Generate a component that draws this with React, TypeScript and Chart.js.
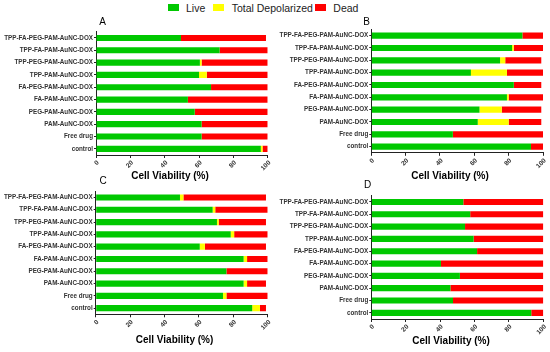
import React, { useEffect, useRef } from 'react';
import { Chart, registerables } from 'chart.js';

Chart.register(...registerables);

// ---------- data ----------
const categories = [
  'TPP-FA-PEG-PAM-AuNC-DOX',
  'TPP-FA-PAM-AuNC-DOX',
  'TPP-PEG-PAM-AuNC-DOX',
  'TPP-PAM-AuNC-DOX',
  'FA-PEG-PAM-AuNC-DOX',
  'FA-PAM-AuNC-DOX',
  'PEG-PAM-AuNC-DOX',
  'PAM-AuNC-DOX',
  'Free drug',
  'control',
];
const seriesNames = ['Live', 'Total Depolarized', 'Dead'];
const seriesColors = ['#00c800', '#ffff00', '#ff0000'];
const xTickValues = [0, 20, 40, 60, 80, 100];
const axisTitle = 'Cell Viability (%)';

const liveA = [49.5, 72, 60.5, 60, 67, 53.5, 57.5, 61.5, 61.5, 96];
const depolA = [0, 0, 1, 4.5, 0, 0, 0, 0, 0, 1];
const deadA = [49.5, 28, 38.5, 35.5, 33, 46.5, 42.5, 38.5, 38.5, 3];

const liveB = [88, 82, 75, 58, 83, 79, 63, 62, 47.5, 93];
const depolB = [0, 1, 3, 21, 0, 1, 13, 18, 0, 0];
const deadB = [12, 17, 21, 21, 16, 20, 23, 19, 52.5, 7];

const liveC = [49, 68, 70.5, 78.5, 60.5, 86, 76, 86, 74, 91];
const depolC = [2, 1.5, 1, 2, 3, 2, 0, 2, 2, 4.5];
const deadC = [48, 30.5, 27.5, 19.5, 35.5, 12, 24, 11, 24, 3.5];

const liveD = [53.5, 57.5, 54.5, 59.5, 61.5, 40.5, 51.5, 46, 47.5, 93];
const depolD = [0, 0, 0, 0, 0, 0, 0, 0, 0, 0];
const deadD = [46.5, 42.5, 45.5, 40.5, 38.5, 59.5, 48.5, 54, 52.5, 7];

// ---------- layout (page coordinates) ----------
const FONT = "Arial, 'Liberation Sans', Helvetica, sans-serif";

const panels = [
  {
    letter: 'A', live: liveA, depol: depolA, dead: deadA,
    box: { x: 0, y: 8, w: 280, h: 180 },
    plot: { l: 96, r: 267.7, t: 31.8, b: 155 },
    titlePos: { x: 170, y: 176.7 }, letterPos: { x: 102.7, y: 22 },
  },
  {
    letter: 'B', live: liveB, depol: depolB, dead: deadB,
    box: { x: 275, y: 8, w: 275, h: 180 },
    plot: { l: 371.3, r: 543, t: 29.5, b: 152.8 },
    titlePos: { x: 450, y: 176.7 }, letterPos: { x: 366.7, y: 22 },
  },
  {
    letter: 'C', live: liveC, depol: depolC, dead: deadC,
    box: { x: 0, y: 172, w: 280, h: 180 },
    plot: { l: 95.7, r: 267.7, t: 191.3, b: 314.3 },
    titlePos: { x: 174.5, y: 340.3 }, letterPos: { x: 103, y: 181 },
  },
  {
    letter: 'D', live: liveD, depol: depolD, dead: deadD,
    box: { x: 275, y: 172, w: 275, h: 180 },
    plot: { l: 371.3, r: 543.3, t: 195.8, b: 319 },
    titlePos: { x: 451, y: 341.7 }, letterPos: { x: 367.7, y: 185.3 },
  },
];

const panelText = {
  id: 'panelText',
  afterDraw(chart: any, _args: any, opts: any) {
    const ctx = chart.ctx;
    ctx.save();
    ctx.fillStyle = '#000';
    ctx.textAlign = 'center';
    ctx.textBaseline = 'middle';
    ctx.font = `bold 10px ${FONT}`;
    ctx.fillText(opts.title, opts.titleX, opts.titleY);
    ctx.font = `10px ${FONT}`;
    ctx.fillText(opts.letter, opts.letterX, opts.letterY);
    ctx.restore();
  },
};

function Panel({ p }: { p: any }) {
  const ref = useRef<HTMLCanvasElement | null>(null);
  useEffect(() => {
    if (!ref.current) return;
    const { box, plot } = p;
    const yWidth = plot.l - box.x;
    const xHeight = box.y + box.h - plot.b;
    const chart = new Chart(ref.current, {
      type: 'bar',
      data: {
        labels: categories,
        datasets: [p.live, p.depol, p.dead].map((d: number[], i: number) => ({
          label: seriesNames[i],
          data: d,
          backgroundColor: seriesColors[i],
          borderWidth: 0,
          barPercentage: 0.5,
          categoryPercentage: 1,
        })),
      },
      options: {
        indexAxis: 'y',
        responsive: false,
        animation: false,
        layout: {
          padding: { left: 0, top: plot.t - box.y, right: box.x + box.w - plot.r, bottom: 0 },
        },
        plugins: {
          legend: { display: false },
          title: { display: false },
          tooltip: { enabled: false },
          panelText: {
            title: axisTitle,
            titleX: p.titlePos.x - box.x,
            titleY: p.titlePos.y - box.y,
            letter: p.letter,
            letterX: p.letterPos.x - box.x,
            letterY: p.letterPos.y - box.y,
          },
        } as any,
        scales: {
          x: {
            type: 'linear',
            stacked: true,
            min: 0,
            max: 100,
            afterBuildTicks: (s: any) => { s.ticks = xTickValues.map((v) => ({ value: v })); },
            afterFit: (s: any) => { s.height = xHeight; },
            grid: { display: true, drawOnChartArea: false, drawTicks: true, tickLength: 3, color: '#222', lineWidth: 1 },
            border: { display: true, color: '#222', width: 1 },
            ticks: {
              minRotation: 45,
              maxRotation: 45,
              padding: 1,
              labelOffset: 2,
              color: '#333',
              font: { family: FONT, size: 6.5, weight: 'bold' },
            },
          },
          y: {
            type: 'category',
            stacked: true,
            offset: true,
            afterFit: (s: any) => { s.width = yWidth; },
            grid: { display: true, offset: false, drawOnChartArea: false, drawTicks: true, tickLength: 2, color: '#222', lineWidth: 1 },
            border: { display: true, color: '#222', width: 1 },
            ticks: {
              padding: 1,
              autoSkip: false,
              color: '#333',
              font: { family: FONT, size: 6.3, weight: 'bold' },
            },
          },
        },
      } as any,
      plugins: [panelText],
    });
    return () => chart.destroy();
  }, [p]);
  return (
    <canvas
      ref={ref}
      width={p.box.w}
      height={p.box.h}
      style={{ position: 'absolute', left: p.box.x, top: p.box.y, width: p.box.w, height: p.box.h }}
    />
  );
}

const legendItems = [
  { boxX: 168.3, textX: 186 },
  { boxX: 213.3, textX: 231.7 },
  { boxX: 315, textX: 333.3 },
];

export default function App() {
  return (
    <div style={{ position: 'absolute', left: 0, top: 0, width: 550, height: 352, background: '#fff', overflow: 'hidden' }}>
      {legendItems.map((it, i) => (
        <React.Fragment key={i}>
          <div style={{ position: 'absolute', left: it.boxX, top: 4.3, width: 11, height: 7, background: seriesColors[i] }} />
          <span
            style={{
              position: 'absolute', left: it.textX, top: 2.6, fontSize: 10.5, lineHeight: '10.5px',
              fontFamily: "'Liberation Sans Narrow', 'Arial Narrow', Arial, sans-serif", color: '#222', whiteSpace: 'nowrap',
            }}
          >
            {seriesNames[i]}
          </span>
        </React.Fragment>
      ))}
      {panels.map((p) => (
        <Panel key={p.letter} p={p} />
      ))}
    </div>
  );
}
